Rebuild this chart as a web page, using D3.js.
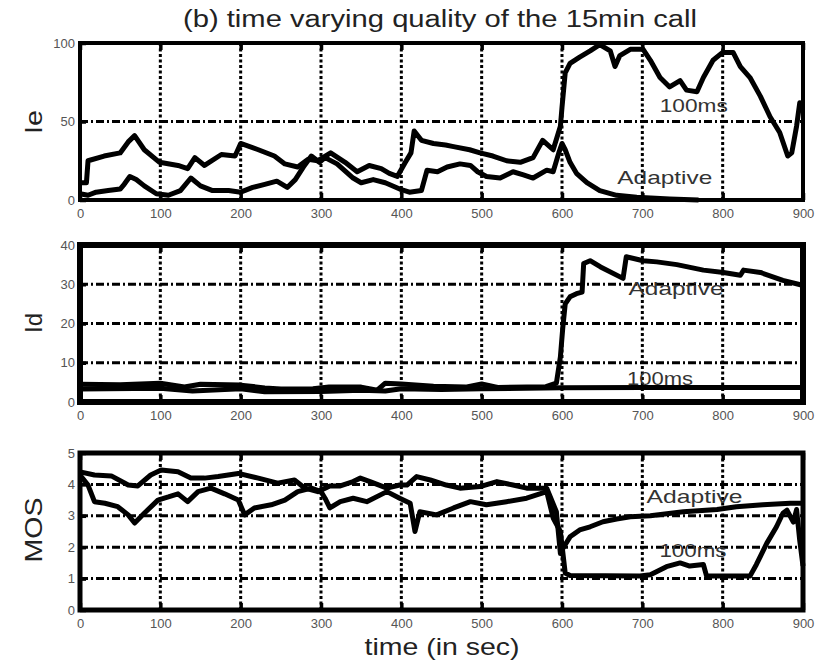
<!DOCTYPE html>
<html>
<head>
<meta charset="utf-8">
<script src="https://d3js.org/d3.v7.min.js"></script>
<style>
  body { margin: 0; background: #fff; }
  svg { font-family: "Liberation Sans", Arial, sans-serif; }
</style>
</head>
<body>
<div id="chart"></div>
<script>
// tick values
var xTicks = [0, 100, 200, 300, 400, 500, 600, 700, 800, 900];
var ieTicks = [0, 50, 100];
var idTicks = [0, 10, 20, 30, 40];
var mosTicks = [0, 1, 2, 3, 4, 5];

// Ie series [time, value]
var ieHundred = [[0,11],[8,11],[10,25],[30,28],[50,30],[60,37],[68,41],[80,32],[99,24],[122,22],[134,20],[143,27],[155,22],[176,29],[193,28],[200,36],[222,32],[242,28],[255,23],[271,21],[284,26],[296,25],[312,30],[330,24],[345,18],[360,22],[375,20],[385,17],[395,15],[405,24],[412,30],[416,44],[425,38],[440,36],[455,35],[465,34],[485,32],[498,30],[514,28],[531,25],[548,24],[564,27],[576,38],[589,32],[598,47],[600,59],[604,81],[610,87],[622,91],[635,95],[647,99],[660,95],[666,85],[672,92],[685,96],[701,96],[710,89],[722,78],[734,72],[747,76],[755,70],[768,69],[776,78],[788,89],[800,94],[813,94],[822,85],[834,78],[847,66],[859,53],[871,43],[881,28],[886,30],[892,47],[896,62],[900,60]];
var ieAdaptive = [[0,4],[10,3],[20,5],[35,6],[50,7],[55,10],[62,15],[70,13],[80,9],[95,4],[110,3],[125,6],[138,14],[150,9],[165,6],[185,6],[200,5],[215,8],[230,10],[245,12],[258,8],[268,13],[278,21],[288,28],[298,24],[305,27],[320,23],[340,14],[350,11],[365,13],[380,11],[398,7],[410,5],[425,6],[432,19],[445,18],[457,21],[473,23],[486,22],[495,18],[506,15],[523,14],[539,18],[552,16],[564,14],[581,19],[589,18],[596,30],[600,36],[604,32],[610,24],[618,17],[631,11],[647,6],[668,3],[693,1.7],[734,0.6],[770,0]];

// Id series
var idAdaptive = [[0,4.5],[50,4.4],[100,4.8],[130,3.8],[150,4.5],[200,4.3],[230,3.6],[250,3.3],[290,3.4],[310,3.8],[350,3.8],[370,3.0],[380,4.8],[400,4.6],[440,4.0],[480,3.8],[500,4.6],[520,3.7],[580,3.9],[593,4.8],[598,11.5],[601,19],[604,25],[610,26.8],[618,27.6],[625,28],[627,35.3],[635,36],[648,34.4],[676,31.5],[680,37],[701,36],[718,35.7],[743,35],[776,33.6],[801,33],[822,32.3],[826,33.6],[847,33],[875,31],[898,29.8],[900,29.8]];
var idHundred = [[0,3.3],[100,3.5],[140,2.8],[200,3.4],[230,2.6],[300,2.7],[350,3.0],[380,2.8],[400,3.4],[450,3.2],[500,3.4],[600,3.6],[700,3.7],[900,3.7]];

// MOS series
var mosAdaptive = [[0,4.4],[18,4.3],[39,4.27],[60,3.98],[72,3.95],[88,4.3],[101,4.46],[122,4.4],[138,4.2],[155,4.2],[172,4.25],[197,4.35],[222,4.2],[246,4.04],[267,4.14],[280,3.88],[296,3.77],[311,3.95],[324,3.95],[340,4.09],[349,4.2],[361,4.09],[382,3.88],[398,3.98],[407,3.98],[419,4.25],[436,4.14],[456,3.98],[473,3.88],[498,3.93],[519,4.09],[539,3.98],[556,3.88],[581,3.88],[593,3.13],[598,1.8],[602,2.0],[610,2.33],[622,2.55],[635,2.65],[651,2.81],[668,2.9],[685,2.97],[710,3.0],[751,3.13],[793,3.2],[817,3.29],[850,3.35],[884,3.4],[900,3.4]];
var mosHundred = [[0,4.3],[10,3.98],[18,3.45],[31,3.4],[47,3.29],[60,3.03],[68,2.77],[80,3.08],[97,3.5],[110,3.6],[122,3.7],[134,3.45],[147,3.77],[163,3.88],[180,3.7],[197,3.5],[205,3.03],[217,3.25],[238,3.35],[255,3.5],[271,3.77],[288,3.88],[300,3.77],[305,3.56],[311,3.25],[324,3.45],[340,3.56],[357,3.45],[382,3.77],[398,3.56],[411,3.4],[417,2.5],[423,3.13],[444,3.03],[465,3.25],[486,3.45],[506,3.35],[531,3.45],[556,3.56],[581,3.77],[589,2.93],[598,2.5],[604,1.18],[610,1.1],[697,1.08],[710,1.12],[730,1.38],[747,1.5],[759,1.4],[776,1.45],[780,1.08],[834,1.08],[842,1.45],[855,2.13],[867,2.65],[875,3.08],[880,3.18],[888,2.8],[892,3.2],[896,2.2],[900,1.4]];

var width = 832, height = 660;
var svg = d3.select("#chart").append("svg")
    .attr("width", width)
    .attr("height", height);

var x = d3.scaleLinear().domain([0, 900]).range([80, 803]);

var panels = [
    { name: "Ie", top: 43, bottom: 200, domain: [0, 100], ticks: ieTicks, grid: [50],
      series: [ieHundred, ieAdaptive], labelY: 122, labelLen: 24, frame: 4,
      notes: [{ t: "100ms", x: 764, y: 56, len: 68 }, { t: "Adaptive", x: 728, y: 10, len: 95 }] },
    { name: "Id", top: 245, bottom: 402, domain: [0, 40], ticks: idTicks, grid: [10, 20, 30],
      series: [idHundred, idAdaptive], labelY: 323, labelLen: 20, frame: 6,
      notes: [{ t: "Adaptive", x: 742, y: 27.2, len: 95 }, { t: "100ms", x: 722, y: 4.3, len: 66 }] },
    { name: "MOS", top: 453, bottom: 610, domain: [0, 5], ticks: mosTicks, grid: [1, 2, 3, 4],
      series: [mosHundred, mosAdaptive], labelY: 530, labelLen: 65, frame: 5,
      notes: [{ t: "Adaptive", x: 765, y: 3.4, len: 96 }, { t: "100ms", x: 763, y: 1.7, len: 67 }] }
];

// title
svg.append("text")
    .attr("x", 440).attr("y", 27)
    .attr("text-anchor", "middle")
    .attr("font-size", 23)
    .attr("fill", "#222")
    .attr("textLength", 514).attr("lengthAdjust", "spacingAndGlyphs")
    .text("(b) time varying quality of the 15min call");

panels.forEach(function (p) {
    var y = d3.scaleLinear().domain(p.domain).range([p.bottom, p.top]);
    var g = svg.append("g");

    // grid lines
    g.selectAll(".vgrid")
        .data(xTicks.slice(1, -1))
        .enter().append("line")
        .attr("x1", function (d) { return x(d); })
        .attr("x2", function (d) { return x(d); })
        .attr("y1", p.top).attr("y2", p.bottom)
        .attr("stroke", "#000").attr("stroke-width", 3)
        .attr("stroke-dasharray", "3,2.5");
    g.selectAll(".hgrid")
        .data(p.grid)
        .enter().append("line")
        .attr("x1", x(0)).attr("x2", x(900))
        .attr("y1", function (d) { return y(d); })
        .attr("y2", function (d) { return y(d); })
        .attr("stroke", "#000").attr("stroke-width", 3)
        .attr("stroke-dasharray", "8,3,2,3");

    // data
    var line = d3.line()
        .x(function (d) { return x(d[0]); })
        .y(function (d) { return y(d[1]); });
    p.series.forEach(function (s) {
        g.append("path")
            .datum(s)
            .attr("d", line)
            .attr("fill", "none")
            .attr("stroke", "#000")
            .attr("stroke-width", 5)
            .attr("stroke-linejoin", "round");
    });

    // in-plot labels
    p.notes.forEach(function (n) {
        g.append("text")
            .attr("x", x(n.x)).attr("y", y(n.y))
            .attr("text-anchor", "middle")
            .attr("font-size", 19)
            .attr("fill", "#333")
            .attr("textLength", n.len).attr("lengthAdjust", "spacingAndGlyphs")
            .text(n.t);
    });

    // axes
    var xAxis = g.append("g")
        .attr("transform", "translate(0," + p.bottom + ")")
        .call(d3.axisBottom(x).tickValues(xTicks).tickSizeInner(-7).tickSizeOuter(0).tickPadding(9));
    var xTop = g.append("g")
        .attr("transform", "translate(0," + p.top + ")")
        .call(d3.axisTop(x).tickValues(xTicks).tickSizeInner(-7).tickSizeOuter(0).tickFormat(""));
    var yAxis = g.append("g")
        .attr("transform", "translate(" + x(0) + ",0)")
        .call(d3.axisLeft(y).tickValues(p.ticks).tickFormat(d3.format("d"))
            .tickSizeInner(-6).tickSizeOuter(0).tickPadding(5));
    [xAxis, xTop, yAxis].forEach(function (a) {
        a.select(".domain").remove();
        a.selectAll(".tick line").attr("stroke", "#000").attr("stroke-width", 3.5);
        a.selectAll(".tick text")
            .attr("font-size", 13)
            .attr("fill", "#555")
            .attr("font-family", "\"Liberation Sans\", Arial, sans-serif");
    });

    // frame
    g.append("rect")
        .attr("x", x(0)).attr("y", p.top)
        .attr("width", x(900) - x(0)).attr("height", p.bottom - p.top)
        .attr("fill", "none")
        .attr("stroke", "#000").attr("stroke-width", p.frame);

    // y label
    g.append("text")
        .attr("transform", "translate(42," + p.labelY + ") rotate(-90)")
        .attr("text-anchor", "middle")
        .attr("font-size", 24)
        .attr("fill", "#222")
        .attr("textLength", p.labelLen).attr("lengthAdjust", "spacingAndGlyphs")
        .text(p.name);
});

// x label
svg.append("text")
    .attr("x", 442).attr("y", 655)
    .attr("text-anchor", "middle")
    .attr("font-size", 24)
    .attr("fill", "#222")
    .attr("textLength", 155).attr("lengthAdjust", "spacingAndGlyphs")
    .text("time (in sec)");
</script>
</body>
</html>
